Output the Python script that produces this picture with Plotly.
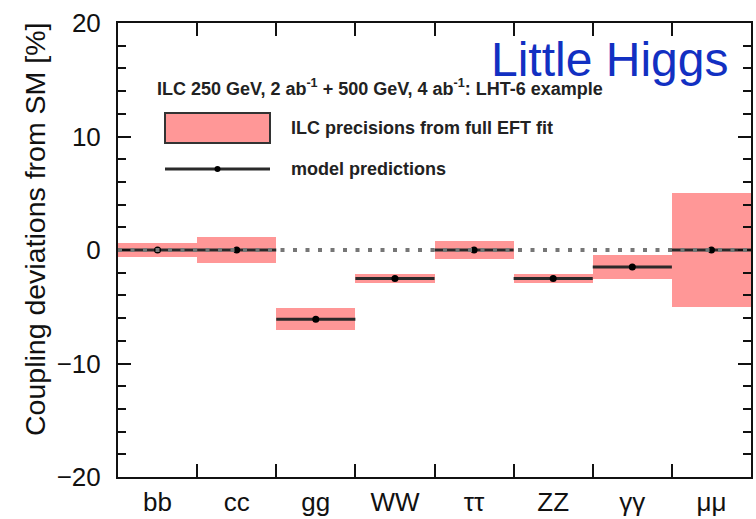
import plotly.graph_objects as go

# ---------------- data ----------------
categories = ["bb", "cc", "gg", "WW", "ττ", "ZZ", "γγ", "μμ"]
model_pred = [0.0, 0.0, -6.1, -2.5, 0.0, -2.5, -1.5, 0.0]
band_low = [-0.6, -1.15, -7.05, -2.9, -0.78, -2.88, -2.52, -5.0]
band_high = [0.6, 1.15, -5.15, -2.1, 0.76, -2.12, -0.48, 5.0]
y_ticks = [-20, -10, 0, 10, 20]

positions = list(range(len(categories)))

W, H = 756, 519
L, R, T, B = 118, 5, 23, 42
PW, PH = W - L - R, H - T - B

def px(x):
    return (x - L) / PW

def py(y):
    return (H - B - y) / PH

FONT = "Liberation Sans, Arial, Helvetica, sans-serif"
PINK = "#ff9797"

fig = go.Figure()
fig.add_trace(go.Bar(
    x=positions,
    y=[h - l for h, l in zip(band_high, band_low)],
    base=band_low,
    width=1.0,
    marker=dict(color=PINK, line=dict(width=0)),
    showlegend=False,
    hoverinfo="skip",
))
fig.add_trace(go.Scatter(
    x=positions,
    y=model_pred,
    mode="markers",
    marker=dict(color="black", size=7),
    error_x=dict(type="constant", value=0.5, thickness=3, width=0, color="#2a2a2a"),
    showlegend=False,
))

shapes = [
    # zero reference line
    dict(type="line", xref="paper", x0=0, x1=1, yref="y", y0=0, y1=0,
         line=dict(color="#767676", width=4, dash="4px,8.5px"), layer="above"),
    # legend box key
    dict(type="rect", xref="paper", yref="paper",
         x0=px(165), x1=px(270), y0=py(143), y1=py(113),
         fillcolor=PINK, line=dict(color="#333333", width=2)),
    # legend line key
    dict(type="line", xref="paper", yref="paper",
         x0=px(165), x1=px(270), y0=py(169), y1=py(169),
         line=dict(color="#2a2a2a", width=3)),
    dict(type="circle", xref="paper", yref="paper",
         x0=px(214.5), x1=px(220.5), y0=py(172), y1=py(166),
         fillcolor="black", line=dict(width=0)),
]

annotations = [
    dict(text="Little Higgs", xref="paper", yref="paper", x=px(489), y=py(60),
         xanchor="left", yanchor="middle", showarrow=False,
         font=dict(family=FONT, size=48, color="#1230c2")),
    dict(text="<b>ILC 250 GeV, 2 ab<sup>-1</sup> + 500 GeV, 4 ab<sup>-1</sup>: LHT-6 example</b>",
         xref="paper", yref="paper", x=px(155), y=py(87),
         xanchor="left", yanchor="middle", showarrow=False,
         font=dict(family=FONT, size=18, color="#222222")),
    dict(text="<b>ILC precisions from full EFT fit</b>", xref="paper", yref="paper",
         x=px(289), y=py(128), xanchor="left", yanchor="middle", showarrow=False,
         font=dict(family=FONT, size=18, color="#222222")),
    dict(text="<b>model predictions</b>", xref="paper", yref="paper",
         x=px(289), y=py(169), xanchor="left", yanchor="middle", showarrow=False,
         font=dict(family=FONT, size=18, color="#222222")),
    dict(text="Coupling deviations from SM [%]", xref="paper", yref="paper",
         x=px(35), y=py(230), xanchor="center", yanchor="middle", textangle=-90,
         showarrow=False, font=dict(family=FONT, size=28.5, color="#111111")),
]

fig.update_layout(
    width=W, height=H,
    margin=dict(l=L, r=R, t=T, b=B, pad=0),
    paper_bgcolor="white", plot_bgcolor="white",
    font=dict(family=FONT, color="#111111"),
    shapes=shapes, annotations=annotations,
    showlegend=False, bargap=0,
    xaxis=dict(
        range=[-0.5, len(categories) - 0.5],
        tickmode="array", tickvals=positions, ticktext=categories,
        ticks="", automargin=False,
        minor=dict(tickmode="array", tickvals=[p + 0.5 for p in positions[:-1]],
                   ticks="inside", ticklen=13, tickwidth=2, tickcolor="#111"),
        showline=True, linewidth=2, linecolor="#111", mirror="ticks",
        showgrid=False, zeroline=False,
        tickfont=dict(family=FONT, size=26, color="#111"),
        ticklabelstandoff=1,
    ),
    yaxis=dict(
        range=[-20, 20], tickmode="array", tickvals=y_ticks, automargin=False,
        ticks="inside", ticklen=13, tickwidth=2, tickcolor="#111",
        minor=dict(dtick=2, ticks="inside", ticklen=8, tickwidth=2, tickcolor="#111"),
        showline=True, linewidth=2, linecolor="#111", mirror="ticks",
        showgrid=False, zeroline=False,
        tickfont=dict(family=FONT, size=26, color="#111"),
        ticklabelstandoff=10,
    ),
)

fig.write_html("out.html")
